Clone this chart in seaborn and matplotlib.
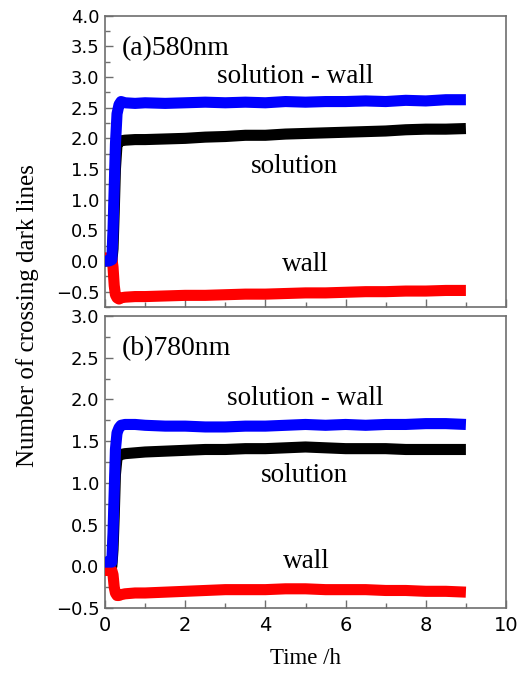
import matplotlib
matplotlib.use("Agg")
import matplotlib.pyplot as plt
import seaborn as sns
import pandas as pd
from matplotlib.ticker import MultipleLocator, FuncFormatter

# ---------------- data ----------------
time_h = [0.0, 0.1, 0.17, 0.2, 0.23, 0.26, 0.3, 0.35, 0.4, 0.5, 0.75, 1.0,
          1.5, 2.0, 2.5, 3.0, 3.5, 4.0, 4.5, 5.0, 5.5, 6.0, 6.5, 7.0, 7.5, 8.0, 8.5, 9.0]

# (a) 580 nm
a_diff = [0.0, 0.0, 0.02, 0.5, 1.2, 1.9, 2.4, 2.55, 2.6, 2.58, 2.57, 2.58,
          2.57, 2.58, 2.59, 2.58, 2.59, 2.58, 2.6, 2.59, 2.6, 2.6, 2.61, 2.6, 2.62, 2.61, 2.63, 2.63]
a_sol = [0.0, 0.0, 0.0, 0.2, 0.8, 1.5, 1.9, 1.95, 1.96, 1.97, 1.98, 1.98,
         1.99, 2.0, 2.02, 2.03, 2.05, 2.05, 2.07, 2.08, 2.09, 2.1, 2.11, 2.12, 2.14, 2.15, 2.15, 2.16]
a_wall = [0.05, 0.05, 0.05, -0.1, -0.4, -0.55, -0.6, -0.62, -0.6, -0.59, -0.58, -0.58,
          -0.57, -0.56, -0.56, -0.55, -0.54, -0.54, -0.53, -0.52, -0.52, -0.51, -0.5, -0.5, -0.49, -0.49, -0.48, -0.48]

# (b) 780 nm
b_diff = [0.05, 0.05, 0.05, 0.4, 0.9, 1.4, 1.6, 1.66, 1.69, 1.7, 1.7, 1.69,
          1.68, 1.68, 1.67, 1.67, 1.68, 1.68, 1.69, 1.7, 1.69, 1.7, 1.69, 1.7, 1.7, 1.71, 1.71, 1.7]
b_sol = [0.0, 0.0, 0.0, 0.2, 0.6, 1.1, 1.3, 1.33, 1.34, 1.35, 1.36, 1.37,
         1.38, 1.39, 1.4, 1.4, 1.41, 1.41, 1.42, 1.43, 1.42, 1.41, 1.41, 1.41, 1.4, 1.4, 1.4, 1.4]
b_wall = [-0.05, -0.05, -0.05, -0.1, -0.25, -0.32, -0.35, -0.35, -0.34, -0.33, -0.32, -0.32,
          -0.31, -0.3, -0.29, -0.28, -0.28, -0.28, -0.27, -0.27, -0.28, -0.28, -0.28, -0.29, -0.29, -0.3, -0.3, -0.31]

panel_titles = ["(a)580nm", "(b)780nm"]
label_diff = "solution - wall"
label_sol = "solution"
label_wall = "wall"
x_label = "Time /h"
y_label = "Number of crossing dark lines"

# ---------------- style ----------------
sns.set_theme(style="white")
plt.rcParams["font.family"] = ["DejaVu Sans"]
serif = "Liberation Serif"
spine_col = "#6e6e6e"

fig = plt.figure(figsize=(5.24, 6.73), dpi=100)
W, H = 524, 673
left = 105 / W
width = (506 - 105) / W
ax1 = fig.add_axes([left, 1 - 307 / H, width, (307 - 15.7) / H])
ax2 = fig.add_axes([left, 1 - 608 / H, width, (608 - 316) / H])

colors = {"diff": "#0000ff", "sol": "#000000", "wall": "#ff0000"}
lw = 8

def draw(ax, diff, sol, wall):
    df = pd.DataFrame({"t": time_h, "diff": diff, "sol": sol, "wall": wall})
    sns.lineplot(data=df, x="t", y="sol", color=colors["sol"], lw=lw, ax=ax,
                 solid_capstyle="butt", zorder=3)
    sns.lineplot(data=df, x="t", y="wall", color=colors["wall"], lw=lw, ax=ax,
                 solid_capstyle="butt", zorder=4)
    sns.lineplot(data=df, x="t", y="diff", color=colors["diff"], lw=lw, ax=ax,
                 solid_capstyle="butt", zorder=5)

draw(ax1, a_diff, a_sol, a_wall)
draw(ax2, b_diff, b_sol, b_wall)

for ax in (ax1, ax2):
    ax.set_xlim(0, 10)
    ax.xaxis.set_major_locator(MultipleLocator(2))
    ax.xaxis.set_minor_locator(MultipleLocator(1))
    ax.yaxis.set_major_locator(MultipleLocator(0.5))
    ax.yaxis.set_minor_locator(MultipleLocator(0.25))
    ax.tick_params(which="both", direction="in", color=spine_col,
                   bottom=True, left=True, top=False, right=False, labelcolor="black")
    ax.tick_params(which="major", length=6, width=1)
    ax.tick_params(which="minor", length=3.5, width=1)
    ax.tick_params(axis="y", labelsize=13, pad=4)
    ax.tick_params(axis="x", labelsize=14, pad=6)
    for s in ax.spines.values():
        s.set_color(spine_col)
        s.set_linewidth(1.2)
        s.set_visible(True)
    ax.set_xlabel("")
    ax.set_ylabel("")
    ax.yaxis.set_major_formatter(FuncFormatter(
        lambda v, p: f"{v:.1f}".replace("-", "\u2212")))

ax1.set_ylim(-0.75, 4.0)
ax2.set_ylim(-0.5, 3.0)
ax1.tick_params(axis="x", labelbottom=False)
ax2.xaxis.set_major_formatter(FuncFormatter(lambda v, p: f"{v:.0f}"))

fs_ann = 19.5
tk = dict(family=serif, color="black", va="baseline")
# panel (a)
ax1.text(0.42, 3.36, panel_titles[0], fontsize=20, ha="left", **tk)
ax1.text(4.74, 2.90, label_diff, fontsize=fs_ann, ha="center", **tk)
ax1.text(4.72, 1.43, label_sol, fontsize=fs_ann, ha="center", **tk)
ax1.text(5.0, -0.155, label_wall, fontsize=fs_ann, ha="center", **tk)
# panel (b)
ax2.text(0.42, 2.53, panel_titles[1], fontsize=20, ha="left", **tk)
ax2.text(4.99, 1.93, label_diff, fontsize=fs_ann, ha="center", **tk)
ax2.text(4.98, 1.01, label_sol, fontsize=fs_ann, ha="center", **tk)
ax2.text(5.01, -0.02, label_wall, fontsize=fs_ann, ha="center", **tk)

fig.text(28 / W, 1 - 316 / H, y_label, family=serif, fontsize=18, rotation=90,
         ha="center", va="center", color="black")
fig.text(305 / W, 1 - 659 / H, x_label, family=serif, fontsize=16.5,
         ha="center", va="center", color="black")

fig.savefig("out.png", dpi=100, facecolor="white")
